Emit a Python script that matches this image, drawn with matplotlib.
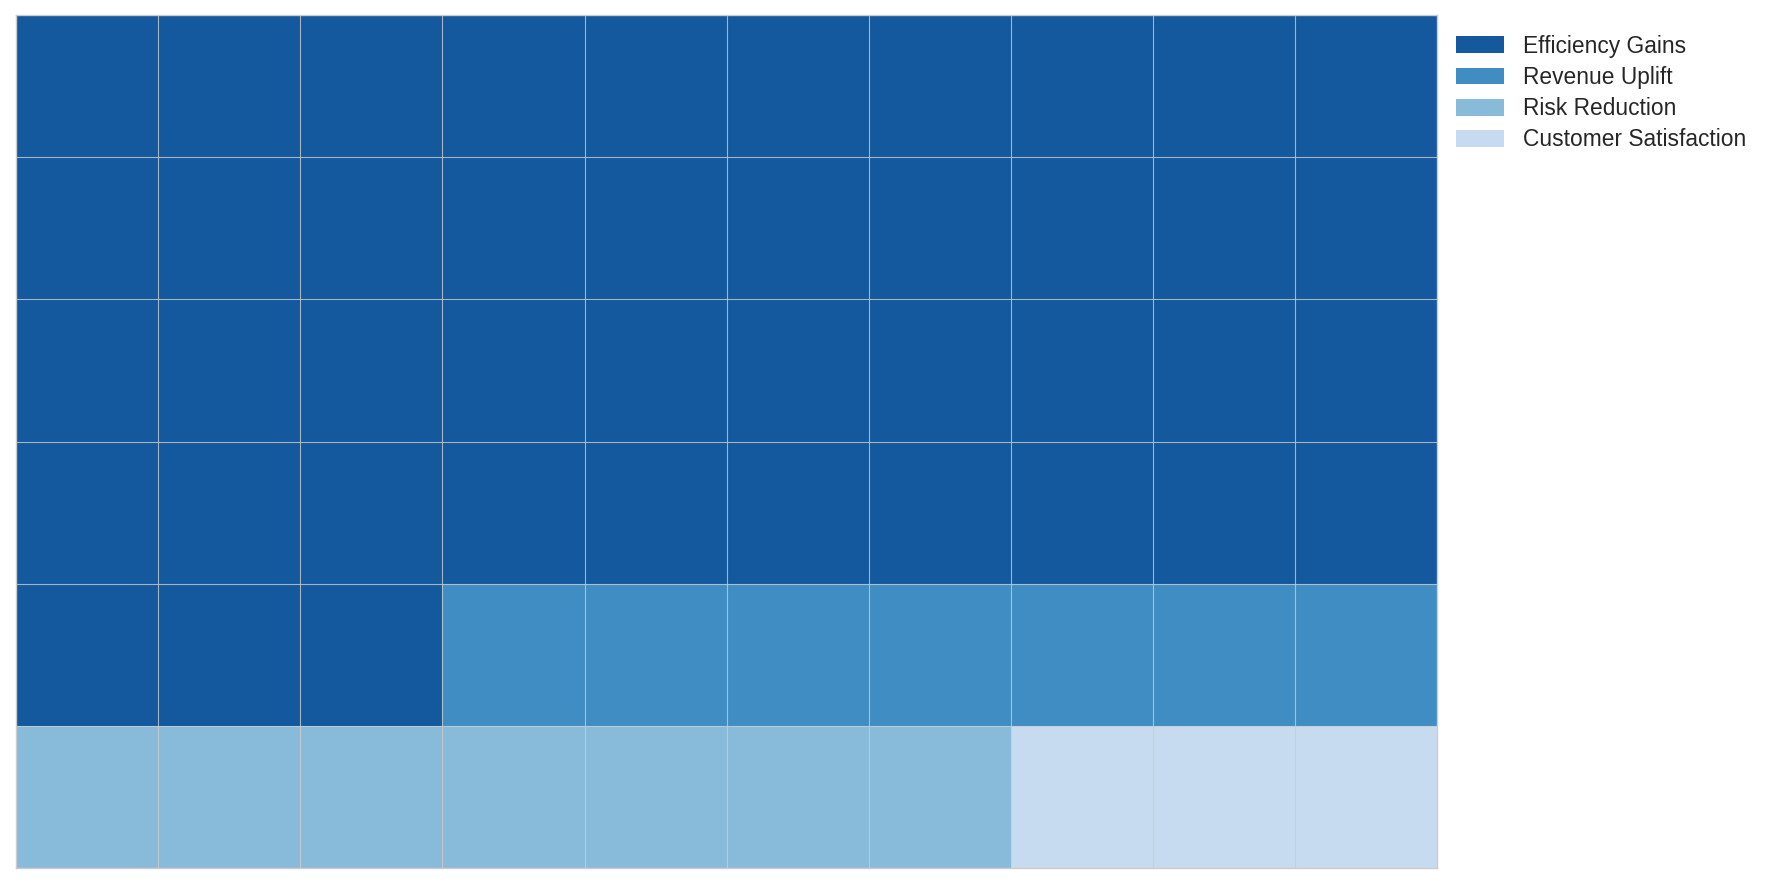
import numpy as np
import matplotlib
matplotlib.use("Agg")
import matplotlib.pyplot as plt
from matplotlib.colors import ListedColormap
from matplotlib.patches import Patch

categories = ["Efficiency Gains", "Revenue Uplift", "Risk Reduction", "Customer Satisfaction"]
counts = [43, 7, 7, 3]
colors = ["#14589e", "#3f8dc3", "#88bbd9", "#c6dbef"]
n_rows, n_cols = 6, 10

plt.rcParams['font.family'] = ['Liberation Sans', 'DejaVu Sans']

# fill the grid row by row from the top-left
cells = np.repeat(np.arange(len(counts)), counts)
grid = cells.reshape(n_rows, n_cols)

fig = plt.figure(figsize=(17.68, 8.88), dpi=100)
ax = fig.add_axes([0.009, 0.0225, 0.804, 0.9605])
cmap = ListedColormap(colors)
ax.pcolormesh(np.arange(n_cols + 1), np.arange(n_rows + 1), grid, cmap=cmap,
              vmin=-0.5, vmax=len(colors) - 0.5)
ax.set_xlim(0, n_cols)
ax.set_ylim(n_rows, 0)
ax.set_aspect('equal')

# thin grid lines between cells
for x in range(1, n_cols):
    ax.axvline(x, color='#cccccc', lw=0.8, alpha=0.8)
for y in range(1, n_rows):
    ax.axhline(y, color='#cccccc', lw=0.8, alpha=0.8)
ax.set_xticks([])
ax.set_yticks([])
for s in ax.spines.values():
    s.set_color('#cccccc')
    s.set_linewidth(1.0)

handles = [Patch(facecolor=c, label=l) for c, l in zip(colors, categories)]
ax.legend(handles=handles, loc='upper left', bbox_to_anchor=(0.999, 1.001),
          frameon=False, fontsize=16.4, handlelength=2.1, handleheight=0.75,
          labelspacing=0.36, handletextpad=0.8, labelcolor='#262626')

fig.savefig("out.png", dpi=100)
